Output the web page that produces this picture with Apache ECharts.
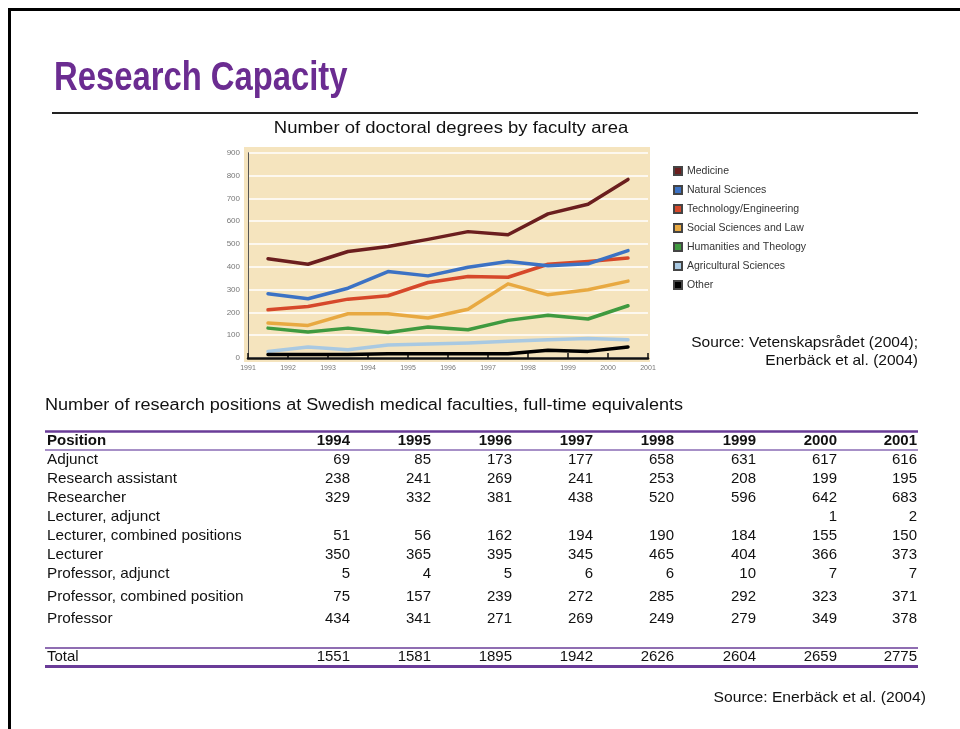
<!DOCTYPE html>
<html lang="en">
<head>
    <meta charset="UTF-8">
    <title>Research Capacity</title>
    <style>
        html, body { margin: 0; padding: 0; background: #fff; }
    </style>
</head>
<body>
<div id="main" style="width: 960px; height: 729px;"></div>
<script type="text/javascript" src="https://cdn.jsdelivr.net/npm/echarts@6/dist/echarts.min.js"></script>
<script type="text/javascript">
    // chart data: doctoral degrees, points sit at mid-year
    let years = [1991.5, 1992.5, 1993.5, 1994.5, 1995.5, 1996.5, 1997.5, 1998.5, 1999.5, 2000.5];
    let medicine = [435, 411, 467, 489, 520, 554, 540, 632, 674, 783];
    let naturalSciences = [282, 260, 306, 379, 360, 398, 423, 404, 413, 471];
    let technology = [211, 226, 258, 273, 331, 357, 354, 411, 423, 438];
    let socialSciences = [153, 143, 194, 194, 175, 214, 325, 277, 299, 337];
    let humanities = [131, 114, 131, 112, 136, 124, 165, 187, 171, 229];
    let agricultural = [28, 48, 36, 57, 61, 66, 73, 80, 85, 80];
    let other = [15, 15, 15, 19, 19, 19, 19, 34, 29, 48];

    // table data: research positions
    let tableYears = ['1994', '1995', '1996', '1997', '1998', '1999', '2000', '2001'];
    let positions = ['Adjunct', 'Research assistant', 'Researcher', 'Lecturer, adjunct',
        'Lecturer, combined positions', 'Lecturer', 'Professor, adjunct',
        'Professor, combined position', 'Professor'];
    let adjunct = [69, 85, 173, 177, 658, 631, 617, 616];
    let researchAssistant = [238, 241, 269, 241, 253, 208, 199, 195];
    let researcher = [329, 332, 381, 438, 520, 596, 642, 683];
    let lecturerAdjunct = [null, null, null, null, null, null, 1, 2];
    let lecturerCombined = [51, 56, 162, 194, 190, 184, 155, 150];
    let lecturer = [350, 365, 395, 345, 465, 404, 366, 373];
    let professorAdjunct = [5, 4, 5, 6, 6, 10, 7, 7];
    let professorCombined = [75, 157, 239, 272, 285, 292, 323, 371];
    let professor = [434, 341, 271, 269, 249, 279, 349, 378];
    let totals = [1551, 1581, 1895, 1942, 2626, 2604, 2659, 2775];

    let tableRows = [adjunct, researchAssistant, researcher, lecturerAdjunct, lecturerCombined,
        lecturer, professorAdjunct, professorCombined, professor];

    // layout of the table
    let rowY = [460, 479, 498, 517, 536, 555, 574, 597, 619];
    let colRight = [350, 431, 512, 593, 674, 756, 837, 917];
    let purple = '#6a3c98';
    let font = "'Liberation Sans', Arial, sans-serif";

    let myChart = echarts.init(document.getElementById('main'));

    function pairs(values) {
        return values.map(function (v, i) {
            return [years[i], v];
        });
    }

    function lineSeries(name, values, color) {
        return {
            name: name,
            type: 'line',
            data: pairs(values),
            showSymbol: false,
            symbol: 'none',
            lineStyle: {color: color, width: 3.5, cap: 'round', join: 'round'},
            itemStyle: {color: color, borderColor: '#444', borderWidth: 0.5},
            z: 3
        };
    }

    function text(x, y, str, opts) {
        opts = opts || {};
        return {
            type: 'text',
            x: x,
            y: y,
            scaleX: opts.scaleX || 1,
            z: 10,
            style: {
                text: str,
                font: (opts.weight || 'normal') + ' ' + (opts.size || 15) + 'px ' + font,
                fill: opts.color || '#111',
                textAlign: opts.align || 'left',
                align: opts.align || 'left',
                textVerticalAlign: 'middle',
                verticalAlign: 'middle'
            }
        };
    }

    function hline(x1, x2, y, color, width) {
        return {
            type: 'line',
            z: 10,
            shape: {x1: x1, y1: y, x2: x2, y2: y},
            style: {stroke: color, lineWidth: width}
        };
    }

    function buildGraphics() {
        let g = [];
        // slide frame
        g.push(hline(8, 960, 9.5, '#000', 3));
        g.push({
            type: 'line', z: 10,
            shape: {x1: 9.5, y1: 8, x2: 9.5, y2: 729},
            style: {stroke: '#000', lineWidth: 3}
        });
        // title and rule
        g.push(text(54, 79, 'Research Capacity', {size: 40, weight: 'bold', color: '#6b2c91', scaleX: 0.82}));
        g.push(hline(52, 918, 113, '#222', 2));
        g.push(text(451, 128, 'Number of doctoral degrees by faculty area', {size: 16.5, align: 'center', scaleX: 1.12}));
        // plot background
        g.push({
            type: 'rect', z: -10,
            shape: {x: 244, y: 147, width: 406, height: 215},
            style: {fill: '#f5e4be'}
        });
        g.push(text(918, 343, 'Source: Vetenskapsrådet (2004);', {size: 14.5, align: 'right', scaleX: 1.07}));
        g.push(text(918, 361, 'Enerbäck et al. (2004)', {size: 14.5, align: 'right', scaleX: 1.07}));

        // table
        g.push(text(45, 406, 'Number of research positions at Swedish medical faculties, full-time equivalents', {size: 16, scaleX: 1.13}));
        g.push(hline(45, 918, 431.5, purple, 2.5));
        g.push(text(47, 441, 'Position', {weight: 'bold'}));
        tableYears.forEach(function (y, i) {
            g.push(text(colRight[i], 441, y, {weight: 'bold', align: 'right'}));
        });
        g.push(hline(45, 918, 450, '#8a6bb5', 1.5));
        positions.forEach(function (p, r) {
            g.push(text(47, rowY[r], p, {scaleX: 1.02}));
            tableRows[r].forEach(function (v, i) {
                if (v !== null) {
                    g.push(text(colRight[i], rowY[r], String(v), {align: 'right'}));
                }
            });
        });
        g.push(hline(45, 918, 648, purple, 1.5));
        g.push(text(47, 657, 'Total'));
        totals.forEach(function (v, i) {
            g.push(text(colRight[i], 657, String(v), {align: 'right'}));
        });
        g.push(hline(45, 918, 666.5, purple, 3));
        g.push(text(926, 698, 'Source: Enerbäck et al. (2004)', {size: 14.5, align: 'right', scaleX: 1.08}));
        return g;
    }

    let option = {
        backgroundColor: '#fff',
        animation: false,
        textStyle: {fontFamily: font},
        grid: {left: 248, right: 312, top: 152.7, bottom: 371, containLabel: false},
        legend: {
            orient: 'vertical',
            left: 668,
            top: 159,
            itemWidth: 8,
            itemHeight: 8,
            itemGap: 5,
            icon: 'rect',
            textStyle: {fontSize: 10.5, color: '#333', lineHeight: 14, fontFamily: font},
            data: ['Medicine', 'Natural Sciences', 'Technology/Engineering', 'Social Sciences and Law',
                'Humanities and Theology', 'Agricultural Sciences', 'Other']
        },
        xAxis: {
            type: 'value',
            min: 1991,
            max: 2001,
            interval: 1,
            axisLine: {show: true, lineStyle: {color: '#111', width: 2.5}},
            axisTick: {show: true, inside: true, length: 5, lineStyle: {color: '#111', width: 1.5}},
            axisLabel: {
                fontSize: 7, color: '#777', margin: 7, showMinLabel: true, showMaxLabel: true,
                formatter: function (v) {
                    return String(v);
                }
            },
            splitLine: {show: false}
        },
        yAxis: {
            type: 'value',
            min: 0,
            max: 900,
            interval: 100,
            axisLine: {show: true, lineStyle: {color: '#555', width: 1}},
            axisTick: {show: false},
            axisLabel: {fontSize: 8, color: '#777', margin: 8},
            splitLine: {show: true, lineStyle: {color: '#fff', width: 1.5}}
        },
        series: [
            lineSeries('Agricultural Sciences', agricultural, '#a9c9e2'),
            lineSeries('Other', other, '#000000'),
            lineSeries('Humanities and Theology', humanities, '#3f9a3f'),
            lineSeries('Social Sciences and Law', socialSciences, '#e8a941'),
            lineSeries('Technology/Engineering', technology, '#d6482a'),
            lineSeries('Natural Sciences', naturalSciences, '#3c72c4'),
            lineSeries('Medicine', medicine, '#6b1e1e')
        ],
        graphic: buildGraphics()
    };

    myChart.setOption(option);
</script>
</body>
</html>
